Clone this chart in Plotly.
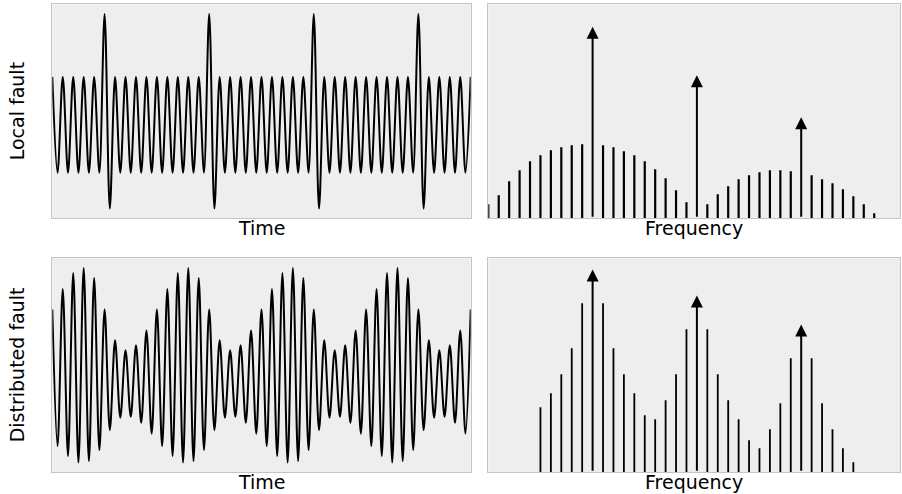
import plotly.graph_objects as go

W, H = 902, 494

# ---------------- data ----------------
# Time-domain signals: value at each carrier peak (cycles 0..40) and at each trough (half cycles 0.5..39.5)
local_peaks = [0.69, 0.69, 0.69, 0.69, 0.69, 1.95, 0.69, 0.69, 0.69, 0.69,
               0.69, 0.69, 0.69, 0.69, 0.69, 1.95, 0.69, 0.69, 0.69, 0.69,
               0.69, 0.69, 0.69, 0.69, 0.69, 1.95, 0.69, 0.69, 0.69, 0.69,
               0.69, 0.69, 0.69, 0.69, 0.69, 1.95, 0.69, 0.69, 0.69, 0.69,
               0.69]
local_troughs = [-1.23, -1.23, -1.23, -1.23, -1.23, -1.95, -1.23, -1.23, -1.23, -1.23,
                 -1.23, -1.23, -1.23, -1.23, -1.23, -1.95, -1.23, -1.23, -1.23, -1.23,
                 -1.23, -1.23, -1.23, -1.23, -1.23, -1.95, -1.23, -1.23, -1.23, -1.23,
                 -1.23, -1.23, -1.23, -1.23, -1.23, -1.95, -1.23, -1.23, -1.23, -1.23]
dist_peaks = [1.12, 1.53, 1.85, 1.95, 1.75, 1.12, 0.50, 0.30, 0.40, 0.70,
              1.12, 1.53, 1.85, 1.95, 1.75, 1.12, 0.50, 0.30, 0.40, 0.70,
              1.12, 1.53, 1.85, 1.95, 1.75, 1.12, 0.50, 0.30, 0.40, 0.70,
              1.12, 1.53, 1.85, 1.95, 1.75, 1.12, 0.50, 0.30, 0.40, 0.70,
              1.12]
dist_troughs = [-1.62, -1.82, -1.95, -1.92, -1.70, -1.30, -1.05, -1.03, -1.15, -1.37,
                -1.62, -1.82, -1.95, -1.92, -1.70, -1.30, -1.05, -1.03, -1.15, -1.37,
                -1.62, -1.82, -1.95, -1.92, -1.70, -1.30, -1.05, -1.03, -1.15, -1.37,
                -1.62, -1.82, -1.95, -1.92, -1.70, -1.30, -1.05, -1.03, -1.15, -1.37]

# Spectra: sideband line heights per frequency bin (None = harmonic, drawn as arrow)
local_bins = list(range(0, 38))
local_lines = [1.4, 2.3, 3.7, 4.8, 5.7, 6.3, 6.8, 7.1, 7.3, 7.4,
               None, 7.3, 7.1, 6.7, 6.3, 5.7, 4.9, 4.0, 2.8, 1.6,
               None, 1.4, 2.4, 3.2, 3.9, 4.3, 4.6, 4.8, 4.8, 4.7,
               None, 4.3, 3.9, 3.5, 2.9, 2.2, 1.4, 0.5]
dist_bins = list(range(5, 36))
dist_lines = [6.5, 7.9, 9.8, 12.4, 16.9, None, 16.9, 12.4, 9.8, 7.9,
              5.7, 5.3, 7.2, 9.8, 14.3, None, 14.3, 9.8, 7.2, 5.3,
              3.2, 2.4, 4.3, 6.9, 11.4, None, 11.4, 6.9, 4.3, 2.4,
              1.0]
harmonic_bins = [10, 20, 30]
local_harmonics = [19.16, 14.30, 10.10]
dist_harmonics = [20.27, 17.67, 14.77]

row_labels = ["Local fault", "Distributed fault"]
time_label = "Time"
freq_label = "Frequency"

# ---------------- layout geometry (pixels) ----------------
L1, R1 = 52.3, 470.7
L2, R2 = 488.3, 900.0
T1, B1 = 4.3, 218.3
T2, B2 = 258.3, 472.3
TIME_MAX = 40
FREQ_MAX = (R2 - L2) / 10.43


def px_x(a, b):
    return [a / W, b / W]


def px_y(top, bottom):
    return [1 - bottom / H, 1 - top / H]


def signal(peaks, troughs):
    t, y = [], []
    for i in range(len(troughs)):
        t += [i, i + 0.5]
        y += [peaks[i], troughs[i]]
    t.append(len(troughs))
    y.append(peaks[len(troughs)])
    return t, y


def stems(bins, vals):
    xs, ys = [], []
    for k, v in zip(bins, vals):
        if v is None:
            continue
        xs += [k, k, None]
        ys += [0, v, None]
    return xs, ys


fig = go.Figure()

for (peaks, troughs), ax in (((local_peaks, local_troughs), ""), ((dist_peaks, dist_troughs), "3")):
    t, y = signal(peaks, troughs)
    fig.add_trace(go.Scatter(x=t, y=y, mode="lines",
                             line=dict(color="black", width=2, shape="spline", smoothing=0.95),
                             xaxis="x" + ax, yaxis="y" + ax, showlegend=False, hoverinfo="skip"))

for bins, vals, ax, w in ((local_bins, local_lines, "2", 2.2), (dist_bins, dist_lines, "4", 1.8)):
    xs, ys = stems(bins, vals)
    fig.add_trace(go.Scatter(x=xs, y=ys, mode="lines", line=dict(color="black", width=w),
                             xaxis="x" + ax, yaxis="y" + ax, showlegend=False, hoverinfo="skip"))

annotations = []
for amps, ax in ((local_harmonics, "2"), (dist_harmonics, "4")):
    for k, a in zip(harmonic_bins, amps):
        annotations.append(dict(x=k, y=a, ax=k, ay=0, xref="x" + ax, yref="y" + ax,
                                axref="x" + ax, ayref="y" + ax, text="", showarrow=True,
                                arrowhead=2, arrowsize=1.2, arrowwidth=2, arrowcolor="black"))

font = dict(family="DejaVu Sans", size=19, color="black")
for (top, bottom), lab in zip(((T1, B1), (T2, B2)), row_labels):
    annotations.append(dict(x=17 / W, y=1 - (top + bottom) / 2 / H, xref="paper", yref="paper",
                            text=lab, showarrow=False, textangle=-90, font=font,
                            xanchor="center", yanchor="middle"))
    annotations.append(dict(x=(L1 + R1) / 2 / W, y=1 - bottom / H, xref="paper", yref="paper",
                            text=time_label, showarrow=False, font=font, borderpad=0,
                            xanchor="center", yanchor="top", yshift=2))
    annotations.append(dict(x=(L2 + R2) / 2 / W, y=1 - bottom / H, xref="paper", yref="paper",
                            text=freq_label, showarrow=False, font=font, borderpad=0,
                            xanchor="center", yanchor="top", yshift=2))

axis_style = dict(showticklabels=False, ticks="", showgrid=False, zeroline=False,
                  showline=True, mirror=True, linecolor="#c4c4c4", linewidth=1, fixedrange=True)

layout = dict(
    width=W, height=H, margin=dict(l=0, r=0, t=0, b=0),
    paper_bgcolor="white", plot_bgcolor="#eeeeee",
    annotations=annotations,
    xaxis=dict(domain=px_x(L1, R1), anchor="y", range=[0, TIME_MAX], **axis_style),
    yaxis=dict(domain=px_y(T1, B1), anchor="x", range=[-2.145, 2.145], **axis_style),
    xaxis2=dict(domain=px_x(L2, R2), anchor="y2", range=[0, FREQ_MAX], **axis_style),
    yaxis2=dict(domain=px_y(T1, B1), anchor="x2", range=[0, 21.4], **axis_style),
    xaxis3=dict(domain=px_x(L1, R1), anchor="y3", range=[0, TIME_MAX], **axis_style),
    yaxis3=dict(domain=px_y(T2, B2), anchor="x3", range=[-2.145, 2.145], **axis_style),
    xaxis4=dict(domain=px_x(L2, R2), anchor="y4", range=[0, FREQ_MAX], **axis_style),
    yaxis4=dict(domain=px_y(T2, B2), anchor="x4", range=[0, 21.4], **axis_style),
)
fig.update_layout(**layout)
fig.write_html("out.html", config={"displayModeBar": False},
               post_script="document.body.style.margin='0';document.body.style.overflow='hidden';")
